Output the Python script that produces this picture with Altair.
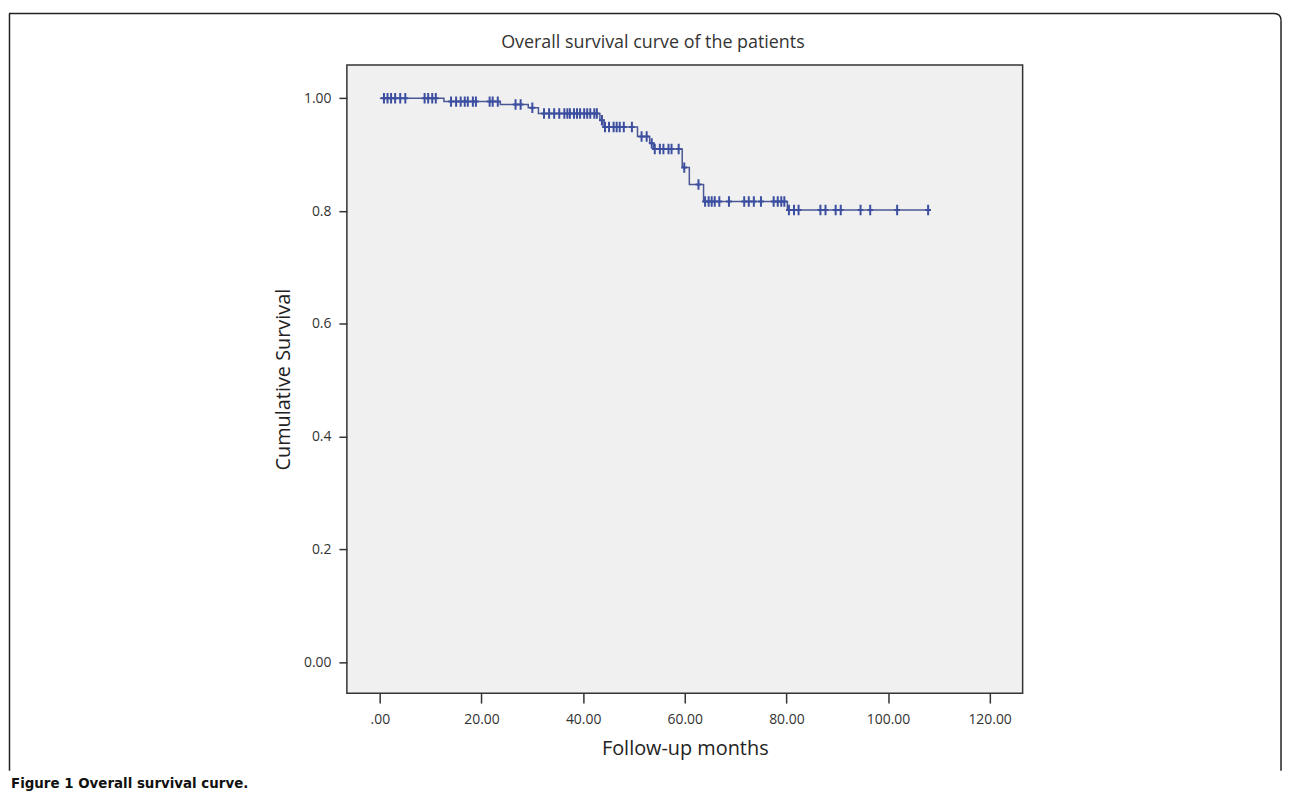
import altair as alt
import numpy as np
import pandas as pd

# Kaplan-Meier step points: month of each drop and survival after it
event_months = [0, 12.6, 23.7, 29.2, 31.2, 43.3, 44.1, 50.7, 53.1, 53.9, 59.5, 60.9, 63.7, 80.2, 108.0]
event_surv = [1.0, 0.994, 0.989, 0.983, 0.973, 0.961, 0.949, 0.932, 0.920, 0.910,
              0.877, 0.847, 0.817, 0.802, 0.802]

# censored observations (months)
censor_months = [
    0.8, 1.5, 2.2, 3.0, 4.0, 5.0, 8.8, 9.5, 10.3, 11.0,
    14.0, 15.0, 15.9, 16.7, 17.3, 18.3, 18.9, 21.6, 22.2, 23.2,
    26.7, 27.7, 30.0,
    32.3, 33.3, 34.3, 35.3, 36.3, 36.9, 37.4, 38.2, 38.8, 39.4, 40.2, 40.8, 41.4, 42.2, 42.7,
    43.7,
    44.3, 45.1, 46.0, 46.6, 47.2, 48.0, 49.6,
    51.5, 52.5, 53.5,
    54.1, 55.1, 55.8, 56.8, 57.4, 58.8,
    59.9, 62.7,
    64.0, 64.7, 65.3, 65.9, 66.8, 68.7, 71.7, 72.6, 73.6, 75.0, 77.5, 78.3, 79.0, 79.6,
    80.5, 81.5, 82.4, 86.7, 87.7, 89.7, 90.7, 94.6, 96.5, 101.8, 107.9,
]

x_ticks = [0, 20, 40, 60, 80, 100, 120]
y_ticks = [0, 0.2, 0.4, 0.6, 0.8, 1.0]

title_text = "Overall survival curve of the patients"
x_title = "Follow-up months"
y_title = "Cumulative Survival"
caption_text = "Figure 1 Overall survival curve."

line_df = pd.DataFrame({"month": event_months, "surv": event_surv})
idx = np.searchsorted(np.array(event_months), np.array(censor_months), side="right") - 1
censor_df = pd.DataFrame({"month": censor_months, "surv": [event_surv[i] for i in idx]})

one = pd.DataFrame({"k": [0]})

xscale = alt.Scale(domain=[-6.5, 126.5], nice=False, zero=False)
yscale = alt.Scale(domain=[-0.0546, 1.0587], nice=False, zero=False)

xaxis = alt.Axis(
    values=x_ticks,
    labelExpr="datum.value == 0 ? '.00' : format(datum.value, '.2f')",
    title=x_title, grid=False, tickSize=10, labelPadding=10, titlePadding=12,
)
yaxis = alt.Axis(
    values=y_ticks,
    labelExpr="datum.value == 0 ? '0.00' : datum.value == 1 ? '1.00' : format(datum.value, '.1f')",
    title=y_title, grid=False, tickSize=8, labelPadding=8, titlePadding=10,
)

line = alt.Chart(line_df).mark_line(
    interpolate="step-after", color="#4b5794", strokeWidth=1.5
).encode(
    x=alt.X("month:Q", scale=xscale, axis=xaxis),
    y=alt.Y("surv:Q", scale=yscale, axis=yaxis),
)

censors = alt.Chart(censor_df).mark_point(
    shape="M-0.55,0L0.55,0M0,-1L0,1", size=110, filled=False,
    color="#3b4ea0", strokeWidth=2, opacity=1,
).encode(x="month:Q", y="surv:Q")

border_col = "#222222"
top_line = alt.Chart(one).mark_rule(color=border_col, strokeWidth=1.5).encode(
    x=alt.value(-340), x2=alt.value(933), y=alt.value(-52))
left_line = alt.Chart(one).mark_rule(color=border_col, strokeWidth=1.5).encode(
    x=alt.value(-339.5), y=alt.value(-52), y2=alt.value(710))
right_line = alt.Chart(one).mark_rule(color=border_col, strokeWidth=1.5).encode(
    x=alt.value(940), y=alt.value(-45), y2=alt.value(710))
corner = alt.Chart(one).mark_point(
    shape="M-1,-1Q1,-1,1,1", size=49, filled=False, color=border_col,
    strokeWidth=1.5, opacity=1,
).encode(x=alt.value(936.5), y=alt.value(-48.5))

title = alt.Chart(one).mark_text(
    text=title_text, align="center", baseline="alphabetic",
    font="Open Sans", fontSize=18, color="#333333",
).encode(x=alt.value(308), y=alt.value(-17))

caption = alt.Chart(one).mark_text(
    text=caption_text, align="left", baseline="middle",
    font="Liberation Sans Narrow, DejaVu Sans Condensed, Open Sans",
    fontSize=15, fontWeight="bold", color="#111111",
).encode(x=alt.value(-338), y=alt.value(722))

chart = alt.layer(
    line, censors, top_line, left_line, right_line, corner, title, caption
).properties(
    width=680, height=632, padding=0,
).configure_view(
    stroke="#333333", strokeWidth=1.5, fill="#f0f0f0"
).configure_axis(
    domain=False, tickColor="#333333", tickWidth=1.5,
    labelFont="Open Sans", labelFontSize=14, labelColor="#333333",
    titleFont="Open Sans", titleFontSize=20, titleFontWeight="normal",
    titleColor="#222222",
)

chart.save("out.html", embed_options={"renderer": "svg", "actions": False})
